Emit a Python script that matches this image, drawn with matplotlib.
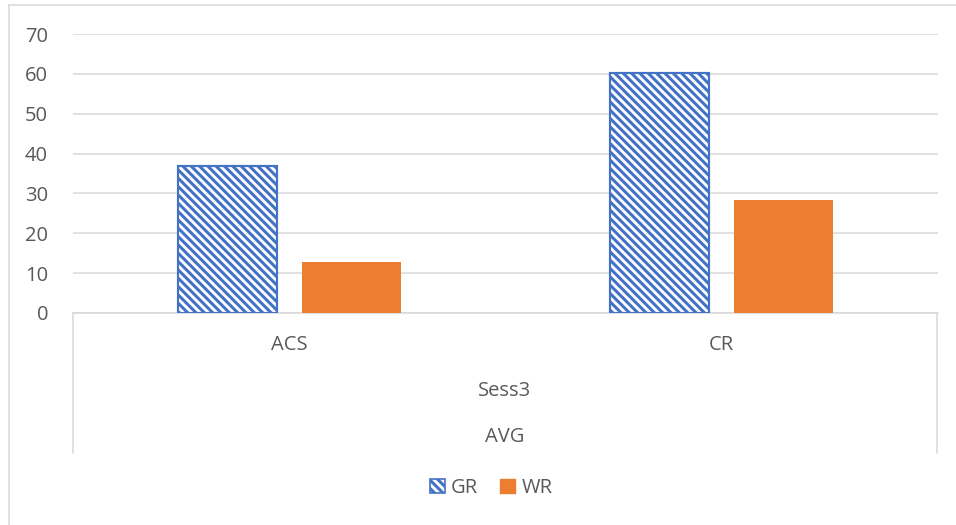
import matplotlib.pyplot as plt
import numpy as np
from matplotlib.lines import Line2D
from matplotlib.patches import Patch

plt.rcParams['font.family'] = ['Open Sans', 'DejaVu Sans']
plt.rcParams['hatch.linewidth'] = 2.2

# 数据
categories = ['ACS', 'CR']
gr_values = [36.8, 60.3]
wr_values = [12.8, 28.3]
series_names = ['GR', 'WR']
level2_label = 'Sess3'
level3_label = 'AVG'

TEXT = '#595959'
GRID = '#D9D9D9'
BLUE = '#4472C4'
ORANGE = '#ED7D31'
FS = 14.5

W, H = 956, 525
fig = plt.figure(figsize=(W / 100, H / 100), dpi=100)

def fx(px):
    return px / W

def fy(py):
    return 1 - py / H

left, right, top, bottom = 73, 938, 34, 313
ax = fig.add_axes([fx(left), fy(bottom), fx(right - left), fy(top) - fy(bottom)])

x = np.arange(len(categories)) + 0.5
bw = 0.229
off = 0.143
ax.bar(x - off, gr_values, bw, facecolor='white', edgecolor=BLUE, hatch='\\\\\\\\', linewidth=1.5, zorder=3)
ax.bar(x - off, gr_values, bw, facecolor='none', edgecolor=BLUE, linewidth=1.5, zorder=4)
ax.bar(x + off, wr_values, bw, color=ORANGE, zorder=3)

ax.set_xlim(0, len(categories))
ax.set_ylim(0, 70)
ax.set_yticks(range(0, 71, 10))
ax.yaxis.grid(True, color=GRID, linewidth=1.1)
ax.set_axisbelow(True)
for s in ['top', 'right', 'left']:
    ax.spines[s].set_visible(False)
ax.spines['bottom'].set_color(GRID)
ax.spines['bottom'].set_linewidth(1.1)
ax.tick_params(axis='y', length=0, labelsize=FS, labelcolor=TEXT, pad=18)
ax.tick_params(axis='x', length=0, labelbottom=False)

# 多层分类轴
for xl in [left, right - 1]:
    fig.add_artist(Line2D([fx(xl), fx(xl)], [fy(bottom), fy(453)], color=GRID, lw=1.1))
for i, c in enumerate(categories):
    ax.text(x[i], -32 / (bottom - top) * 70, c, ha='center', va='center',
            fontsize=FS, color=TEXT, clip_on=False)
fig.text(fx(505), fy(391), level2_label, ha='center', va='center', fontsize=FS, color=TEXT)
fig.text(fx(505), fy(437), level3_label, ha='center', va='center', fontsize=FS, color=TEXT)

# 外框
fig.add_artist(Line2D([fx(9), fx(9)], [fy(5), 0], color=GRID, lw=1.1))
fig.add_artist(Line2D([fx(9), 1], [fy(5), fy(5)], color=GRID, lw=1.1))

# 图例
handles = [Patch(facecolor='white', edgecolor=BLUE, hatch='\\\\\\\\', linewidth=1.2),
           Patch(facecolor=ORANGE, edgecolor=ORANGE)]
fig.legend(handles, series_names, loc='center', bbox_to_anchor=(fx(491), fy(488)),
           ncol=2, frameon=False, fontsize=FS, labelcolor=TEXT,
           handlelength=0.75, handleheight=0.75, handletextpad=0.3, columnspacing=1.1)

fig.savefig('out.png', dpi=100)
